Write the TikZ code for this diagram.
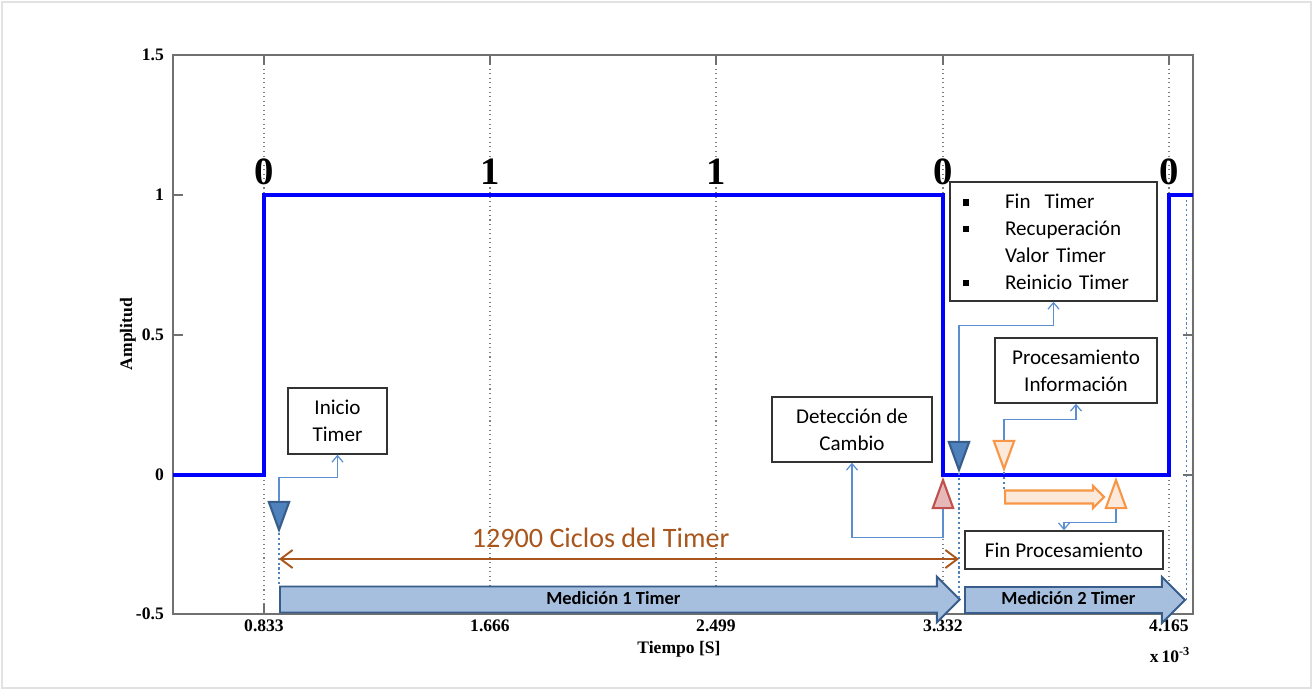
\documentclass[tikz,border=0pt]{standalone}
\usepackage{fontspec}
\setmainfont{Liberation Serif}
\newfontfamily\calib{Carlito}
\usetikzlibrary{arrows.meta,shapes.geometric,shapes.arrows}
\definecolor{SignalBlue}{HTML}{0000FF}
\definecolor{LinkBlue}{HTML}{5B8FD0}
\definecolor{MarkBlue}{HTML}{4F81BD}
\definecolor{MarkEdge}{HTML}{385D8A}
\definecolor{BarFill}{HTML}{A7BFDE}
\definecolor{MarkRed}{HTML}{C0504D}
\definecolor{MarkPink}{HTML}{E6B9B8}
\definecolor{MarkOrange}{HTML}{F79646}
\definecolor{MarkPeach}{HTML}{FDE9D9}
\definecolor{Rust}{HTML}{A9561C}
\definecolor{AxisGray}{HTML}{707070}
\definecolor{BoxInk}{HTML}{333333}
\definecolor{FrameGray}{HTML}{E2E2E2}
\newcommand{\bul}{\makebox[0.84cm][l]{\rule[1.6pt]{3.5pt}{3.5pt}}}
\tikzset{
  infobox/.style={
    draw=BoxInk, line width=0.8pt, fill=white, align=center, inner sep=0pt,
    font=\calib\fontsize{12}{15.3}\selectfont
  },
  flagdown/.style={
    isosceles triangle, isosceles triangle apex angle=40,
    shape border rotate=270, inner sep=0pt, minimum height=0.56cm,
    line width=1.2pt
  },
  flagup/.style={flagdown, shape border rotate=90},
  bluemark/.style={draw=MarkEdge, fill=MarkBlue},
  redmark/.style={draw=MarkRed, fill=MarkPink},
  orangemark/.style={draw=MarkOrange, fill=MarkPeach},
  link/.style={draw=LinkBlue, line width=0.7pt, -{Straight Barb[length=1.3mm,width=2.2mm]}},
  trace/.style={draw=MarkBlue, line width=1.1pt, dash pattern=on 1.2pt off 1.6pt},
  gridline/.style={draw=gray, line width=0.6pt, dotted},
  signal/.style={draw=SignalBlue, line width=2.3pt},
  bitlabel/.style={font=\fontsize{22}{22}\selectfont\bfseries},
  ticklabel/.style={font=\fontsize{10}{12}\selectfont\bfseries},
  measure/.style={
    single arrow, single arrow head extend=0.2cm, single arrow tip angle=90,
    draw=MarkEdge, fill=BarFill, line width=1.1pt, inner xsep=0pt, inner ysep=2pt,
    text height=7.5pt, text depth=2.2pt,
    font=\calib\fontsize{10.5}{12}\selectfont\bfseries
  },
  cycles/.style={
    draw=Rust, line width=1.1pt,
    {Straight Barb[length=2.4mm,width=3.6mm]}-{Straight Barb[length=2.4mm,width=3.6mm]}
  }
}

\begin{document}
\begin{tikzpicture}[x=0.02cm, y=-0.02cm]
  \useasboundingbox (0,0) rectangle (1313,690);
  \draw[FrameGray, line width=0.8pt] (2,2) rectangle (1311,688);
  % grid and axes
  \foreach \gx in {264,490,716,943,1169}
    \draw[gridline] (\gx,55) -- (\gx,614);
  \draw[AxisGray, line width=0.8pt] (173,55) rectangle (1193,614);
  \foreach \gy/\lab in {55/1.5,195/1,335/0.5,475/0,614/-0.5}{
    \draw[AxisGray, line width=0.8pt] (173,\gy) -- ++(10,0) (1193,\gy) -- ++(-10,0);
    \node[ticklabel, anchor=east] at (170,\gy) {\lab};
  }
  \foreach \gx/\lab in {264/0.833,490/1.666,716/2.499,943/3.332,1169/4.165}{
    \draw[AxisGray, line width=0.8pt] (\gx,614) -- ++(0,-10) (\gx,55) -- ++(0,10);
    \node[ticklabel, anchor=north] at (\gx,614) {\lab};
  }
  \node[ticklabel, rotate=90] (ylab) at (128,334) {Amplitud};
  \node[ticklabel] (xlab) at (679,649) {Tiempo [S]};
  \node[ticklabel] (xmul) at (1170,655) {x\,10\textsuperscript{-3}};

  % signal and bits
  \draw[signal] (173,475) -- (264,475) -- (264,195) -- (943,195) -- (943,475)
    -- (1169,475) -- (1169,195) -- (1193,195);
  \foreach \gx/\b in {264/0,490/1,716/1,943/0,1169/0}
    \node[bitlabel] at (\gx,172) {\b};

  % boxes
  \node[infobox, minimum width=1.98cm, minimum height=1.32cm] (inicio) at (337.5,421) {Inicio\\Timer};
  \node[infobox, minimum width=3.2cm, minimum height=1.3cm] (detec) at (852,429.5) {Detección de\\Cambio};
  \node[infobox, align=left, text width=3.62cm, inner xsep=0.26cm, minimum height=2.38cm]
    (fintimer) at (1053.5,241.5) {\bul Fin~ Timer\\\bul Recuperación\\\hspace*{0.84cm}Valor Timer\\\bul Reinicio Timer};
  \node[infobox, minimum width=3.24cm, minimum height=1.3cm] (proc) at (1076,370.5) {Procesamiento\\Información};
  \node[infobox, minimum width=3.96cm, minimum height=0.76cm] (finproc) at (1064,550) {Fin Procesamiento};

  % marks
  \node[flagdown, bluemark, anchor=apex] (trgA) at (279,533) {};
  \node[flagup, redmark, anchor=apex] (trgR) at (943,477) {};
  \node[flagdown, bluemark, anchor=apex] (trgB) at (959,473) {};
  \node[flagdown, orangemark, anchor=apex] (trgO) at (1004,472) {};
  \node[flagup, orangemark, anchor=apex] (trgP) at (1116,477) {};

  % measurement bars
  \node[measure, anchor=tail, minimum height=13.6cm] (med1) at (279,599.5) {Medición 1 Timer};
  \node[measure, anchor=tail, minimum height=4.4cm] (med2) at (964,600) {Medición 2 Timer};
  \node[single arrow, single arrow head extend=0.09cm, single arrow tip angle=90,
    orangemark, line width=1.2pt, inner xsep=0pt, inner ysep=3.1pt, anchor=tail,
    minimum height=1.98cm] (peach) at (1004,497) {};

  % dotted traces
  \draw[trace] (trgA.apex) -- (trgA.apex |- med1.north);
  \draw[trace] (trgB.apex) -- (trgB.apex |- med1.tip);
  \draw[trace, line width=0.6pt] (trgO.apex) -- (trgO.apex |- peach.north);
  \draw[trace, line width=0.6pt] (med2.tip) -- (med2.tip |- 0,200);

  % links
  \draw[link] (trgA.lower side) -- ++(0,-23) -| (inicio.south);
  \draw[link] (trgR.lower side) -- ++(0,28) -| (detec.south);
  \draw[link] (trgB.lower side) -- ++(0,-115) -| (fintimer.south);
  \draw[link] (trgO.lower side) -- ++(0,-20) -| (proc.south);
  \draw[link] (trgP.lower side) -- ++(0,13) -| (finproc.north);

  % timer cycles
  \coordinate (cycL) at (trgA.apex |- 0,559);
  \coordinate (cycR) at (trgB.apex |- 0,559);
  \draw[cycles] (cycL) -- node[pos=0.473, above=2.5pt, text=Rust,
    font=\calib\fontsize{16}{18}\selectfont] {12900 Ciclos del Timer} (cycR);
\end{tikzpicture}
\end{document}
